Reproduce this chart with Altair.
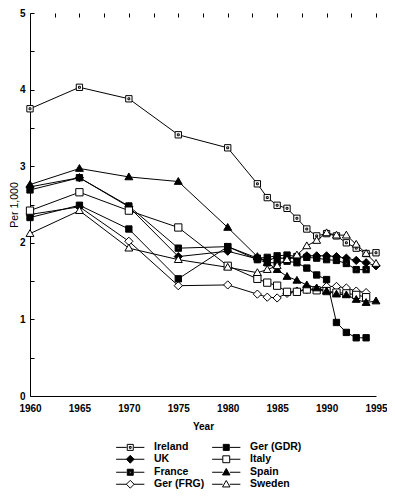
import altair as alt
import pandas as pd

years = [1960, 1965, 1970, 1975, 1980, 1983, 1984, 1985, 1986, 1987,
         1988, 1989, 1990, 1991, 1992, 1993, 1994, 1995]

ireland = [3.75, 4.03, 3.88, 3.41, 3.24, 2.77, 2.59, 2.49, 2.45, 2.32,
           2.18, 2.09, 2.12, 2.09, 2.00, 1.93, 1.86, 1.87]
uk = [2.73, 2.85, 2.47, 1.82, 1.89, 1.79, 1.78, 1.80, 1.80, 1.80,
      1.83, 1.83, 1.83, 1.82, 1.80, 1.77, 1.74, 1.70]
france = [2.69, 2.85, 2.48, 1.93, 1.95, 1.80, 1.81, 1.83, 1.84, 1.82,
          1.81, 1.80, 1.78, 1.77, 1.73, 1.65, 1.65, None]
ger_frg = [2.37, 2.47, 2.02, 1.44, 1.45, 1.33, 1.29, 1.28, 1.34, 1.37,
           1.39, 1.40, 1.43, 1.43, 1.41, 1.37, 1.35, None]
ger_gdr = [2.33, 2.49, 2.18, 1.53, 1.95, 1.78, 1.74, 1.74, 1.76, 1.74,
           1.67, 1.58, 1.52, 0.96, 0.83, 0.76, 0.76, None]
italy = [2.42, 2.66, 2.42, 2.20, 1.70, 1.53, 1.48, 1.44, 1.36, 1.36,
         1.39, 1.38, 1.37, 1.35, 1.34, 1.32, 1.29, None]
spain = [2.76, 2.97, 2.86, 2.80, 2.20, 1.82, 1.74, 1.65, 1.56, 1.51,
         1.45, 1.41, 1.37, 1.33, 1.32, 1.26, 1.22, 1.24]
sweden = [2.12, 2.42, 1.93, 1.78, 1.68, 1.61, 1.65, 1.70, 1.78, 1.84,
          1.96, 2.03, 2.13, 2.10, 2.10, 1.98, 1.86, 1.73]

# legend order (column-major: first column, then second column)
series = {
    "Ireland": ireland, "UK": uk, "France": france, "Ger (FRG)": ger_frg,
    "Ger (GDR)": ger_gdr, "Italy": italy, "Spain": spain, "Sweden": sweden,
}
countries = list(series.keys())

rows = []
for name, vals in series.items():
    for yr, v in zip(years, vals):
        if v is not None:
            rows.append({"Year": yr, "Value": v, "Country": name})
df = pd.DataFrame(rows)

# marker glyphs (unit coordinates)
sq = "M-1,-1H1V1H-1Z"
diamond = "M0,-1.3L1.3,0L0,1.3L-1.3,0Z"
tri = "M0,-1.25L1.25,0.9H-1.25Z"
marker_paths = {
    "Ireland": sq + "M-0.3,-0.3H0.3V0.3H-0.3Z",
    "UK": diamond,
    "France": sq + "M-0.3,-0.3V0.3H0.3V-0.3Z",
    "Ger (FRG)": diamond,
    "Ger (GDR)": sq,
    "Italy": "M-1.15,-1.15H1.15V1.15H-1.15Z",
    "Spain": tri,
    "Sweden": tri,
}
fills = {
    "Ireland": "white", "UK": "black", "France": "black", "Ger (FRG)": "white",
    "Ger (GDR)": "black", "Italy": "white", "Spain": "black", "Sweden": "white",
}
seg = "M-4.7,0H-1.2M1.2,0H4.7"
legend_paths = {k: seg + v for k, v in marker_paths.items()}

FONT = "Liberation Sans"

x_enc = alt.X("Year:Q",
              scale=alt.Scale(domain=[1960, 1995], nice=False, zero=False),
              axis=alt.Axis(values=[1960 + 2.5 * i for i in range(15)],
                            labelExpr="datum.value % 5 == 0 ? format(datum.value, 'd') : ''",
                            title="Year"))
y_enc = alt.Y("Value:Q",
              scale=alt.Scale(domain=[0, 5], nice=False, zero=True),
              axis=alt.Axis(values=[0.5 * i for i in range(11)],
                            labelExpr="datum.value % 1 == 0 ? format(datum.value, 'd') : ''",
                            title="Per 1,000", titleFontWeight="normal",
                            titleFontSize=10.5, titlePadding=0, labelPadding=5))

base = alt.Chart(df)

lines = base.mark_line(color="black", strokeWidth=1).encode(
    x=x_enc, y=y_enc, detail="Country:N")

points = base.mark_point(filled=True, stroke="black", strokeWidth=1,
                         opacity=1, size=40).encode(
    x=x_enc, y=y_enc,
    shape=alt.Shape("Country:N", legend=None,
                    scale=alt.Scale(domain=countries,
                                    range=[marker_paths[c] for c in countries])),
    fill=alt.Fill("Country:N", legend=None,
                  scale=alt.Scale(domain=countries,
                                  range=[fills[c] for c in countries])),
)

leg = alt.Legend(title=None, orient="none", legendX=95, legendY=429,
                 columns=2, columnPadding=5, rowPadding=0, padding=0,
                 symbolSize=36, symbolStrokeColor="black", symbolStrokeWidth=1,
                 symbolOpacity=1, labelOffset=18.5, labelFont=FONT,
                 labelFontSize=10.5, labelFontWeight="bold", labelColor="black",
                 labelLimit=200)

legend_layer = base.transform_filter("false").mark_point(
    filled=True, stroke="black", strokeWidth=1, opacity=1).encode(
    x=x_enc, y=y_enc,
    shape=alt.Shape("Country:N", legend=leg,
                    scale=alt.Scale(domain=countries,
                                    range=[legend_paths[c] for c in countries])),
    fill=alt.Fill("Country:N", legend=leg,
                  scale=alt.Scale(domain=countries,
                                  range=[fills[c] for c in countries])),
    stroke=alt.Stroke("Country:N", legend=leg,
                      scale=alt.Scale(domain=countries,
                                      range=["black"] * len(countries))),
)

chart = alt.layer(lines, points, legend_layer).resolve_scale(
    shape="independent", fill="independent", stroke="independent"
).properties(
    width=346, height=383,
    autosize=alt.AutoSizeParams(type="none"),
    padding={"left": 22, "top": 5, "right": 11, "bottom": 93},
).configure_view(stroke=None).configure_axis(
    domainColor="black", domainWidth=1,
    ticks=False, tickSize=0,
    grid=True, gridColor="black", gridOpacity=1, gridWidth=1, gridDash=[4, 2000],
    labelFont=FONT, labelFontWeight="bold", labelFontSize=10, labelColor="black",
    labelFlush=False, labelOverlap=False,
    titleFont=FONT, titleFontWeight="bold", titleFontSize=10, titleColor="black",
).configure_axisX(labelPadding=7, titlePadding=8)

chart.save("out.html", embed_options={"renderer": "svg", "actions": False})
